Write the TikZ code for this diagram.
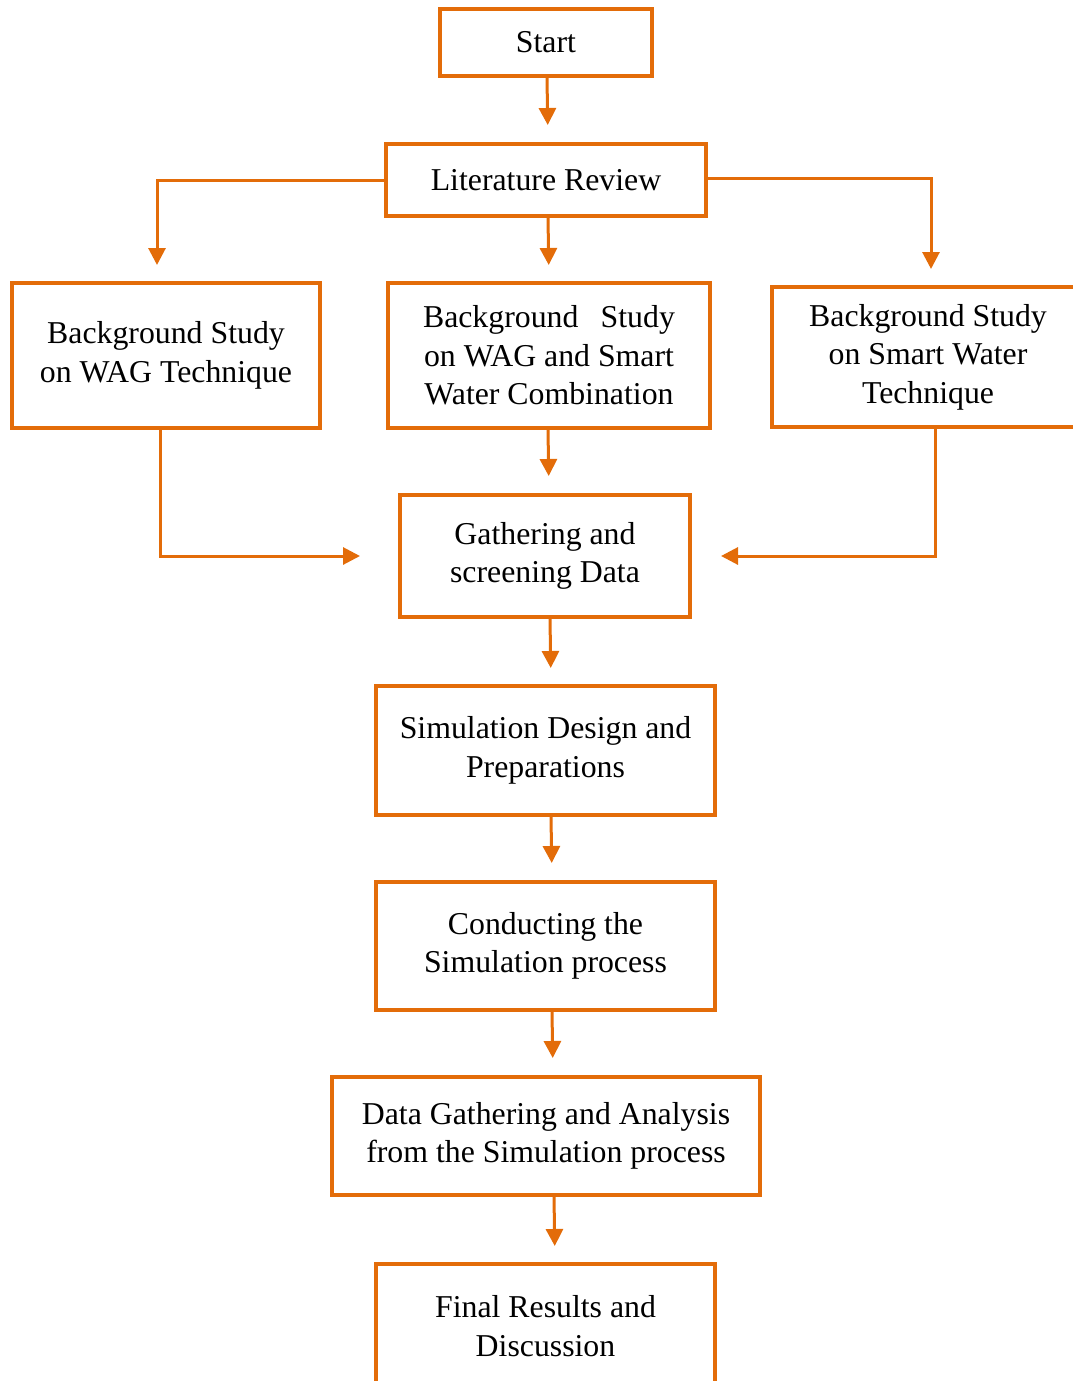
\documentclass[tikz,border=0pt]{standalone}
\usepackage{fontspec}
\setmainfont{Liberation Serif}
\usetikzlibrary{arrows.meta}

\definecolor{flowedge}{RGB}{227,108,9}

\tikzset{
  flowbox/.style={draw=flowedge, line width=4pt, rectangle, inner sep=0pt, align=center,
    font=\fontsize{31.8}{38.5}\selectfont},
  flowarrow/.style={draw=flowedge, line width=3pt,
    -{Triangle[length=17pt,width=17pt]}}
}

\begin{document}
\begin{tikzpicture}[x=1pt,y=-1pt]
\useasboundingbox (0,0) rectangle (1073,1381);
\clip (0,0) rectangle (1073,1381);

\node[flowbox, minimum width=212, minimum height=67] (start) at (546,42.5) {Start};
\node[flowbox, minimum width=320, minimum height=72] (litrev) at (546,180) {Literature Review};

\node[flowbox, minimum width=308, minimum height=145] (bgwag) at (166,355.5) {Background Study\\on WAG Technique};
\node[flowbox, minimum width=322, minimum height=145] (bgboth) at (549,355.5) {Background\hspace{0.7em}Study\\on WAG and Smart\\Water Combination};
\node[flowbox, minimum width=312, minimum height=140] (bgsw) at (928,357) {Background Study\\on Smart Water\\Technique};

\node[flowbox, minimum width=290, minimum height=122] (gather) at (545,556) {Gathering and\\screening Data};
\node[flowbox, minimum width=339, minimum height=129] (simdesign) at (545.5,750.5) {Simulation Design and\\Preparations};
\node[flowbox, minimum width=339, minimum height=128] (conduct) at (545.5,946) {Conducting the\\Simulation process};
\node[flowbox, minimum width=428, minimum height=118] (analysis) at (546,1136) {Data Gathering and Analysis\\from the Simulation process};
\node[flowbox, minimum width=339, minimum height=124] (final) at (545.5,1326) {Final Results and\\Discussion};

\draw[flowarrow, shorten >=17pt] ([xshift=1]start.south) -- ([xshift=2]litrev.north);
\draw[flowarrow, shorten >=16pt] (litrev.west) -| ([xshift=-9]bgwag.north);
\draw[flowarrow, shorten >=16pt] ([yshift=2]litrev.east) -| ([xshift=3]bgsw.north);
\draw[flowarrow, shorten >=16pt] ([xshift=2]litrev.south) -- (bgboth.north);

\draw[flowarrow, shorten >=17pt] ([xshift=-1]bgboth.south) -- ([xshift=4]gather.north);
\draw[flowarrow, shorten >=38pt] ([xshift=-6]bgwag.south) |- (gather.west);
\draw[flowarrow, shorten >=29pt] ([xshift=7]bgsw.south) |- (gather.east);

\draw[flowarrow, shorten >=16pt] ([xshift=5]gather.south) -- ([xshift=5.5]simdesign.north);
\draw[flowarrow, shorten >=17pt] ([xshift=5.5]simdesign.south) -- ([xshift=6.5]conduct.north);
\draw[flowarrow, shorten >=17pt] ([xshift=6.5]conduct.south) -- ([xshift=7]analysis.north);
\draw[flowarrow, shorten >=16pt] ([xshift=8]analysis.south) -- ([xshift=9.5]final.north);

\end{tikzpicture}
\end{document}
